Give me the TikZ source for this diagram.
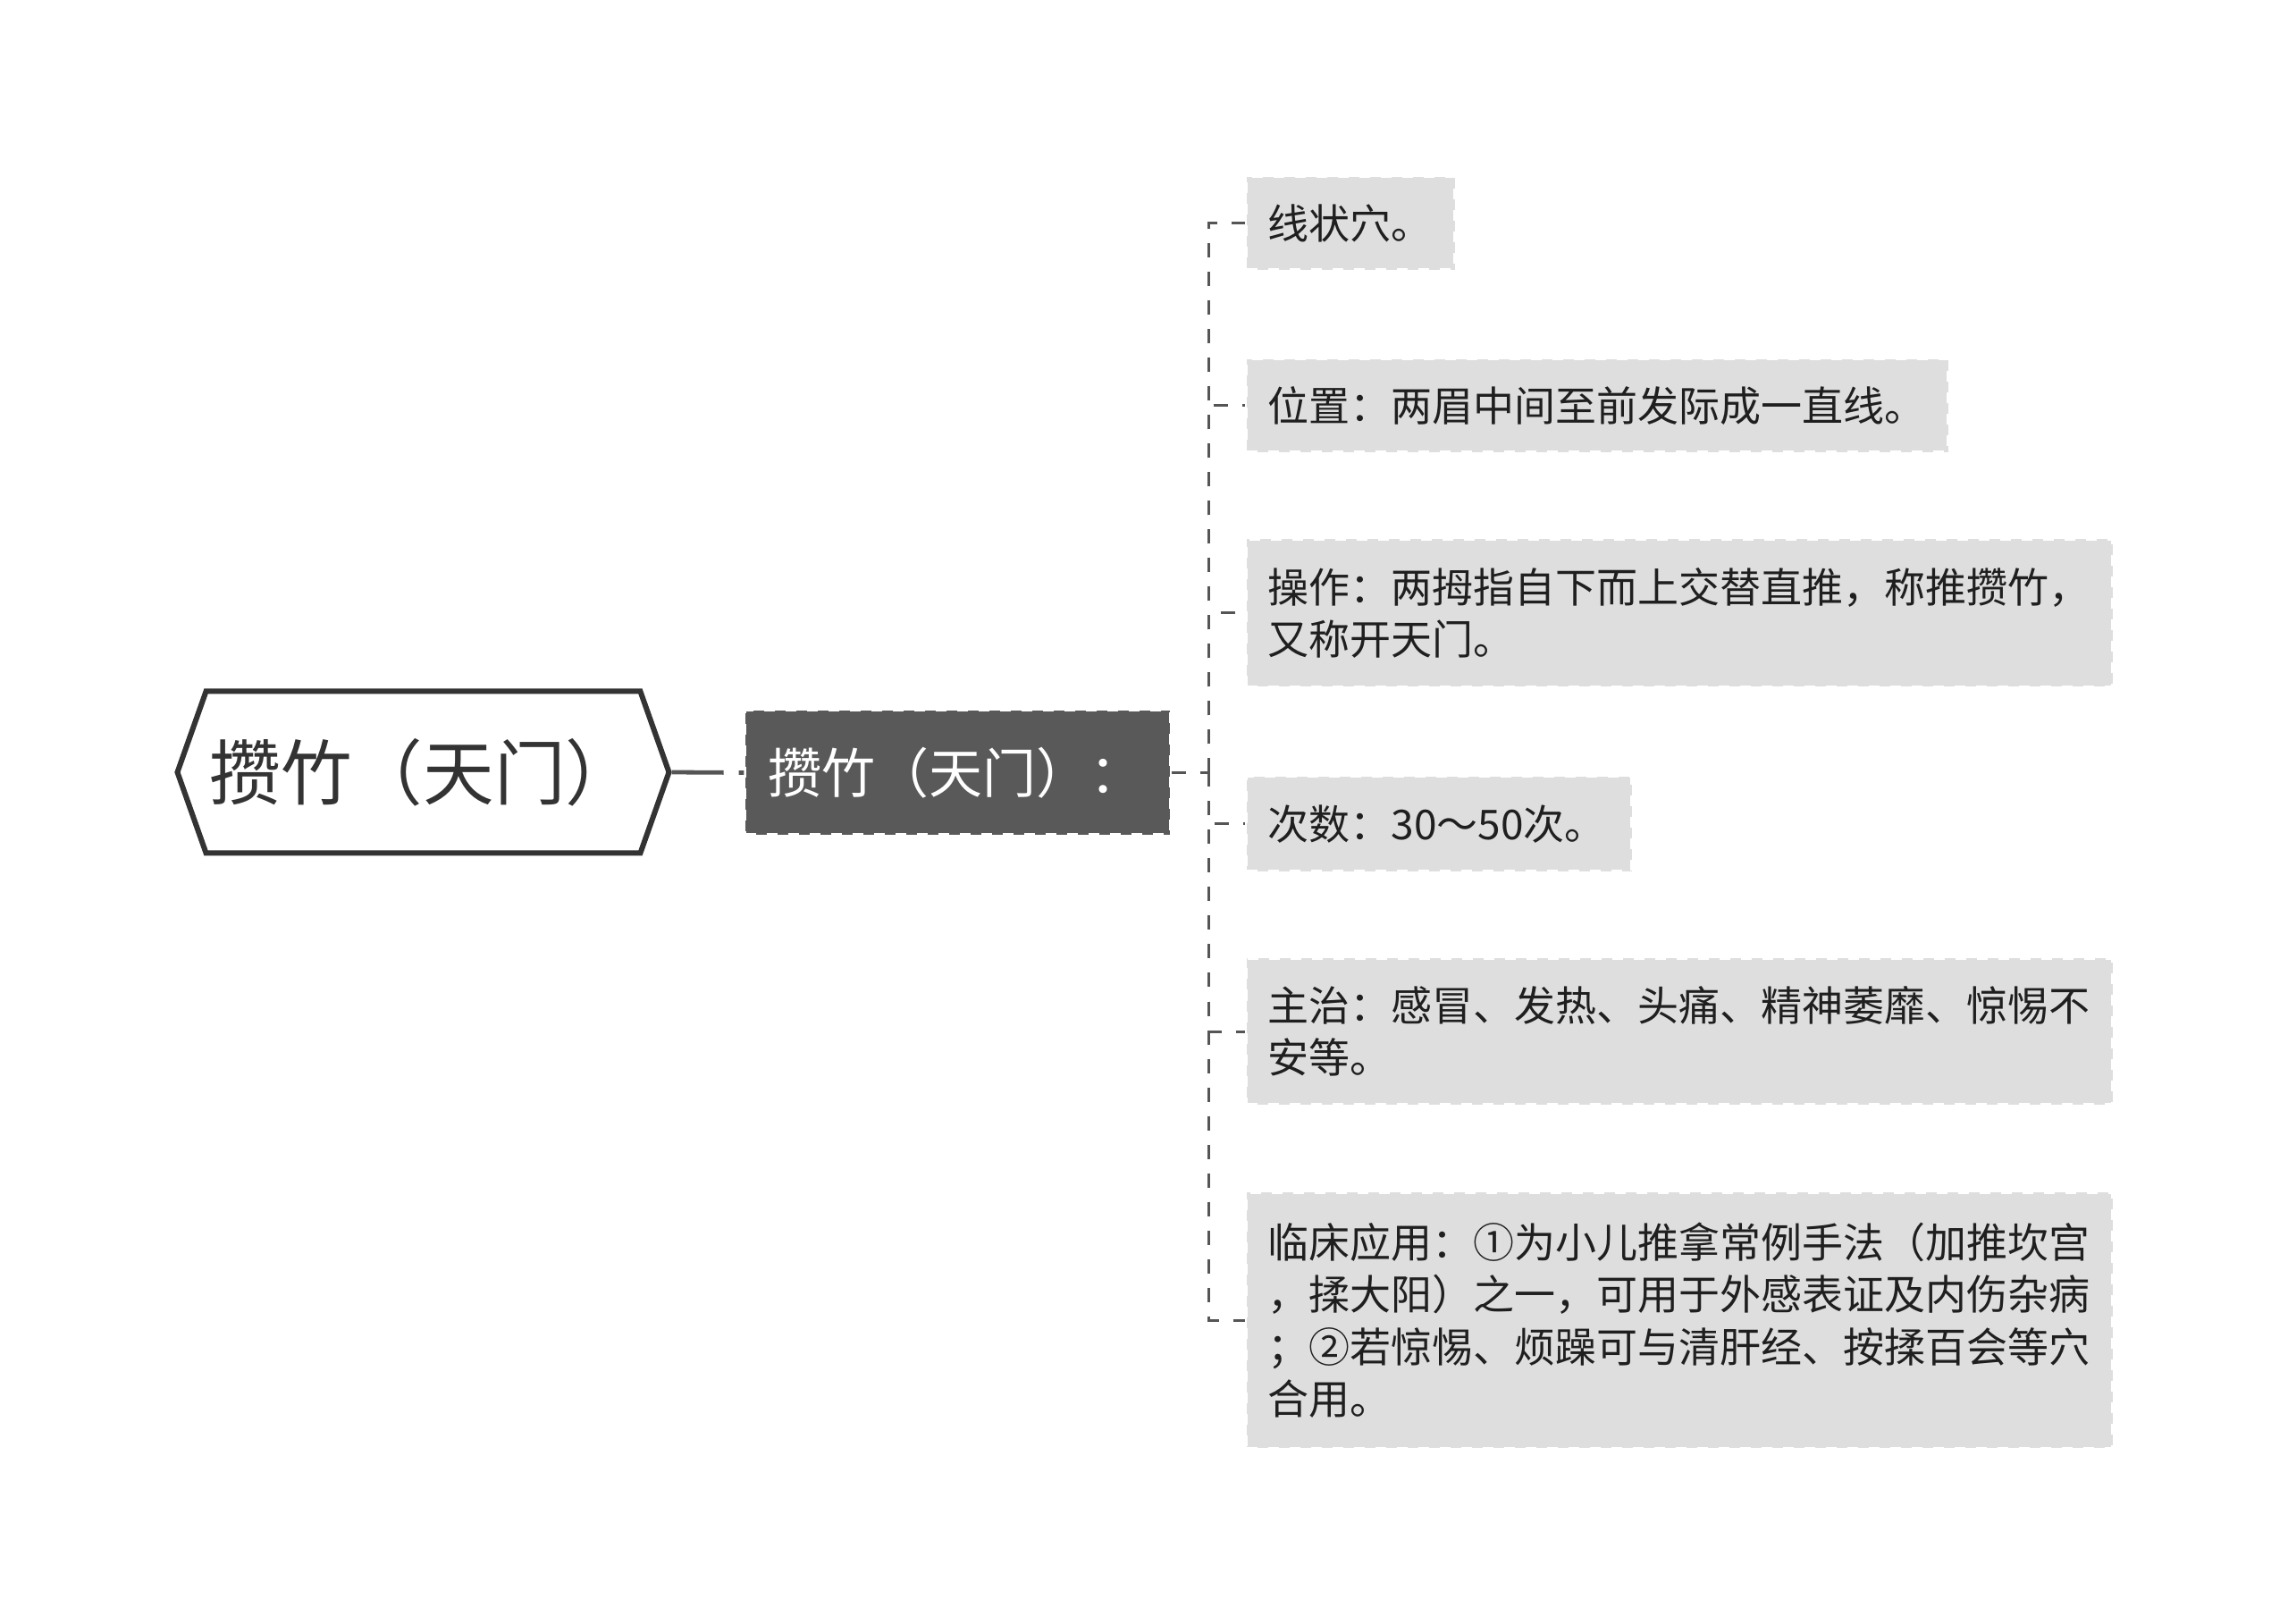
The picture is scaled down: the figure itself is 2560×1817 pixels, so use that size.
\documentclass[tikz,border=0pt]{standalone}
\usepackage{fontspec}
\setmainfont{Noto Sans CJK SC}
\usetikzlibrary{shapes.symbols}

\definecolor{inkgray}{HTML}{333333}
\definecolor{branchgray}{HTML}{595959}
\definecolor{leafgray}{HTML}{DEDEDE}
\definecolor{linegray}{HTML}{555555}

\tikzset{
  rootnode/.style={signal, signal to=west and east, signal pointer angle=141,
    draw=inkgray, line width=1.5pt, fill=white, text=inkgray, inner sep=0pt,
    minimum width=137.5pt, minimum height=45.25pt,
    font=\fontsize{19.9pt}{24pt}\selectfont},
  branchbox/.style={fill=branchgray, draw=white, dashed, line width=0.75pt,
    text=white, minimum height=34.75pt, text width=106pt, inner xsep=6.4pt,
    align=left, font=\fontsize{15pt}{18pt}\selectfont},
  leafbox/.style={fill=leafgray, draw=white, dashed, line width=0.75pt,
    text=black!88, inner xsep=6pt, align=left, anchor=west,
    font=\fontsize{11.5pt}{14.6pt}\selectfont},
  rootline/.style={draw=linegray, line width=1.2pt, dash pattern=on 14.5pt off 4.25pt},
  busline/.style={draw=linegray, line width=0.75pt, dash pattern=on 4pt off 4pt}
}

\begin{document}
\begin{tikzpicture}[x=0.25pt, y=-0.25pt]

    \useasboundingbox (0,0) rectangle (2560,1817);

    \node[rootnode] (root) at (473.5,864) {攒竹（天门）};
    \node[branchbox] (topic) at (1071.5,864.5) {攒竹（天门）：};
    \coordinate (bus) at (1352,864.5);

    % leaves
    \node[leafbox, text width=46.25pt, minimum height=26pt] (xianzhuang) at (1393,250) {线状穴。};
    \node[leafbox, text width=184.25pt, minimum height=26pt] (weizhi) at (1393,454) {位置：两眉中间至前发际成一直线。};
    \node[leafbox, text width=230.25pt, minimum height=41.25pt] (caozuo) at (1393,686) {操作：两拇指自下而上交替直推，称推攒竹，\\又称开天门。};
    \node[leafbox, text width=95.75pt, minimum height=26.5pt] (cishu) at (1393,922) {次数：30～50次。};
    \node[leafbox, text width=230.25pt, minimum height=40.75pt] (zhuzhi) at (1393,1154) {主治：感冒、发热、头痛、精神萎靡、惊惕不\\安等。};
    \node[leafbox, text width=230.25pt, minimum height=71.5pt] (linchuang) at (1393,1477) {临床应用：①为小儿推拿常例手法（加推坎宫\\，揉大阳）之一，可用于外感表证及内伤杂病\\；②若惊惕、烦躁可与清肝经、按揉百会等穴\\合用。};

    \draw[rootline] (root.east) -- (topic.west);
    \draw[busline] (topic.east) -- (bus);
    \foreach \leaf in {xianzhuang, weizhi, caozuo, cishu, zhuzhi, linchuang}
        \draw[busline] (bus) |- (\leaf.west);

\end{tikzpicture}
\end{document}
